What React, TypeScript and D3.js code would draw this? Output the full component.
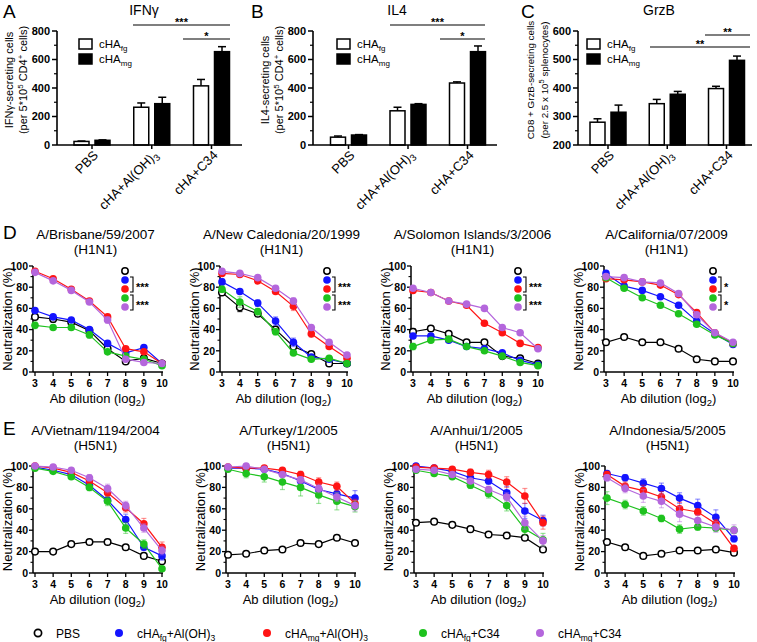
import React from 'react';
import * as d3 from 'd3';

const FONT = "'Liberation Sans', Arial, Helvetica, sans-serif";

// ---------- Bar chart data (panels A–C) ----------
const groups = ['PBS', 'cHA+Al(OH)3', 'cHA+C34'];
const ifngFg = [25, 265, 415];
const ifngFgErr = [3, 30, 45];
const ifngMg = [33, 290, 655];
const ifngMgErr = [3, 45, 35];
const il4Fg = [55, 240, 435];
const il4FgErr = [8, 25, 8];
const il4Mg = [70, 285, 655];
const il4MgErr = [3, 5, 40];
const grzbFg = [280, 345, 398];
const grzbFgErr = [12, 15, 8];
const grzbMg = [315, 378, 497];
const grzbMgErr = [25, 10, 15];
const cellTicks = [0, 200, 400, 600, 800];
const cellMinor = [100, 300, 500, 700];
const grzbTicks = [200, 300, 400, 500, 600];
const grzbMinor = [250, 350, 450, 550];

// ---------- Neutralization data (panels D–E) ----------
const dilutions = [3, 4, 5, 6, 7, 8, 9, 10];
const neutTicks = [0, 20, 40, 60, 80, 100];
const neutMinor = [10, 30, 50, 70, 90];
const seriesColors = ['#000000', '#1414ff', '#ff1414', '#1ec21e', '#b466dc'];

// order: PBS, cHAfg+Al(OH)3, cHAmg+Al(OH)3, cHAfg+C34, cHAmg+C34
const brisbane = [
  [52, 50, 47, 39, 22, 10, 13, 8],
  [58, 52, 49, 40, 27, 18, 23, 8],
  [95, 88, 78, 67, 52, 22, 19, 8],
  [44, 42, 42, 35, 19, 15, 12, 6],
  [94, 86, 77, 66, 49, 12, 9, 8],
];
const brisbaneErr = [
  [2, 3, 2, 2, 2, 1, 1, 1],
  [2, 2, 2, 2, 2, 2, 2, 1],
  [1, 1, 1, 1, 2, 2, 2, 1],
  [3, 2, 2, 3, 2, 2, 2, 1],
  [1, 1, 1, 2, 3, 2, 2, 1],
];
const caledonia = [
  [75, 61, 55, 40, 24, 17, 8, 8],
  [85, 76, 65, 48, 28, 14, 12, 8],
  [93, 92, 86, 76, 62, 36, 24, 13],
  [78, 66, 57, 38, 18, 12, 13, 8],
  [95, 93, 89, 79, 67, 42, 28, 16],
];
const caledoniaErr = [
  [2, 4, 2, 2, 2, 1, 1, 1],
  [3, 2, 3, 4, 4, 2, 1, 1],
  [2, 2, 2, 2, 4, 3, 2, 1],
  [3, 5, 3, 3, 2, 2, 1, 1],
  [1, 1, 1, 2, 3, 2, 1, 1],
];
const solomon = [
  [38, 41, 36, 28, 28, 15, 13, 8],
  [34, 34, 30, 24, 22, 18, 11, 7],
  [77, 75, 67, 63, 46, 37, 27, 23],
  [24, 30, 31, 24, 20, 15, 9, 6],
  [79, 75, 67, 64, 60, 42, 37, 22],
];
const solomonErr = [
  [3, 2, 1, 1, 1, 1, 1, 1],
  [2, 2, 1, 1, 1, 1, 1, 1],
  [2, 1, 1, 1, 2, 2, 1, 1],
  [3, 1, 1, 1, 1, 1, 1, 1],
  [1, 1, 1, 1, 1, 1, 1, 1],
];
const california = [
  [28, 33, 28, 28, 22, 12, 10, 10],
  [93, 81, 77, 71, 63, 48, 36, 26],
  [88, 87, 85, 82, 73, 56, 37, 27],
  [89, 79, 70, 63, 55, 45, 35, 27],
  [90, 89, 85, 84, 74, 54, 37, 28],
];
const californiaErr = [
  [1, 1, 1, 1, 2, 1, 1, 1],
  [1, 1, 1, 1, 1, 1, 1, 1],
  [1, 1, 1, 1, 1, 1, 1, 1],
  [1, 1, 1, 1, 1, 2, 1, 1],
  [1, 1, 1, 1, 1, 1, 1, 1],
];
const vietnam = [
  [20, 20, 27, 29, 29, 24, 16, 11],
  [99, 96, 92, 82, 68, 50, 24, 16],
  [100, 98, 94, 86, 75, 61, 46, 24],
  [98, 95, 90, 80, 67, 42, 27, 4],
  [100, 99, 96, 89, 79, 63, 42, 21],
];
const vietnamErr = [
  [1, 1, 1, 1, 1, 1, 1, 1],
  [1, 1, 2, 3, 3, 5, 3, 4],
  [1, 1, 2, 2, 3, 4, 5, 5],
  [1, 2, 2, 3, 4, 5, 4, 2],
  [1, 1, 2, 3, 4, 4, 4, 4],
];
const turkey = [
  [17, 18, 21, 22, 28, 27, 33, 28],
  [98, 98, 97, 93, 86, 78, 74, 70],
  [99, 98, 98, 96, 92, 85, 81, 65],
  [97, 93, 90, 85, 80, 73, 67, 62],
  [99, 100, 97, 92, 87, 79, 71, 63],
];
const turkeyErr = [
  [1, 1, 1, 1, 1, 1, 1, 1],
  [1, 2, 2, 3, 3, 4, 4, 7],
  [1, 1, 1, 2, 3, 4, 4, 4],
  [2, 4, 5, 7, 8, 8, 8, 5],
  [1, 1, 2, 2, 3, 4, 4, 5],
];
const anhui = [
  [47, 48, 45, 41, 36, 35, 33, 22],
  [100, 98, 95, 89, 86, 75, 58, 49],
  [99, 98, 97, 94, 92, 85, 72, 47],
  [96, 93, 90, 82, 74, 63, 41, 31],
  [97, 96, 92, 86, 78, 71, 47, 30],
];
const anhuiErr = [
  [1, 1, 1, 1, 1, 1, 1, 1],
  [1, 1, 2, 2, 3, 6, 7, 5],
  [1, 1, 2, 3, 4, 5, 7, 6],
  [1, 2, 2, 3, 4, 5, 5, 6],
  [1, 1, 2, 2, 3, 4, 6, 5],
];
const indonesia = [
  [29, 24, 16, 18, 21, 21, 22, 19],
  [93, 89, 84, 79, 70, 63, 52, 32],
  [92, 81, 77, 71, 60, 57, 46, 23],
  [70, 64, 58, 51, 41, 43, 42, 40],
  [89, 79, 72, 67, 55, 49, 43, 40],
];
const indonesiaErr = [
  [1, 1, 1, 1, 1, 1, 1, 1],
  [2, 3, 4, 5, 5, 6, 7, 3],
  [3, 4, 5, 5, 6, 3, 4, 2],
  [6, 4, 4, 3, 4, 3, 3, 3],
  [3, 4, 6, 6, 7, 5, 5, 5],
];

// ---------- Bar panel ----------
const BAR_TOP = 31;
const BAR_BOT = 145;

type Sig = { x1: number; x2: number; y: number; label: string };

function BarPanel(props: {
  ax: number; axEnd: number; first: number; last: number;
  domain: [number, number]; ticks: number[]; minor: number[];
  fg: number[]; fgErr: number[]; mg: number[]; mgErr: number[];
  title: string; titleX: number; letter: string; letterX: number;
  ylab1: React.ReactNode; ylab2: React.ReactNode; ylabFont: number;
  legendX: number; sig: Sig[];
}) {
  const p = props;
  const y = d3.scaleLinear().domain(p.domain).range([BAR_BOT, BAR_TOP]);
  const xc = d3.scalePoint<string>().domain(groups).range([p.first, p.last]);
  const bw = 15;
  const midY = 80;
  return (
    <g>
      <text x={p.letterX} y={18} fontSize={19}>{p.letter}</text>
      <text x={p.titleX} y={15} fontSize={14} textAnchor="middle">{p.title}</text>
      {/* y label */}
      <text transform={`translate(${p.ax - 44},${midY}) rotate(-90)`} textAnchor="middle" fontSize={p.ylabFont}>{p.ylab1}</text>
      <text transform={`translate(${p.ax - 30},${midY}) rotate(-90)`} textAnchor="middle" fontSize={p.ylabFont}>{p.ylab2}</text>
      {/* bars */}
      {groups.map((g, i) => {
        const c = xc(g)!;
        const fx = c - bw - 3;
        const mx = c + 3;
        return (
          <g key={g}>
            <line x1={fx + bw / 2} x2={fx + bw / 2} y1={y(p.fg[i])} y2={y(p.fg[i] + p.fgErr[i])} stroke="#000" strokeWidth={1.5} />
            <line x1={fx + bw / 2 - 4} x2={fx + bw / 2 + 4} y1={y(p.fg[i] + p.fgErr[i])} y2={y(p.fg[i] + p.fgErr[i])} stroke="#000" strokeWidth={1.5} />
            <rect x={fx} y={y(p.fg[i])} width={bw} height={BAR_BOT - y(p.fg[i])} fill="#fff" stroke="#000" strokeWidth={1.5} />
            <line x1={mx + bw / 2} x2={mx + bw / 2} y1={y(p.mg[i])} y2={y(p.mg[i] + p.mgErr[i])} stroke="#000" strokeWidth={1.5} />
            <line x1={mx + bw / 2 - 4} x2={mx + bw / 2 + 4} y1={y(p.mg[i] + p.mgErr[i])} y2={y(p.mg[i] + p.mgErr[i])} stroke="#000" strokeWidth={1.5} />
            <rect x={mx} y={y(p.mg[i])} width={bw} height={BAR_BOT - y(p.mg[i])} fill="#000" stroke="#000" strokeWidth={1.5} />
            <line x1={c} x2={c} y1={BAR_BOT} y2={BAR_BOT + 4} stroke="#000" strokeWidth={1.5} />
            <text transform={`translate(${c + 7},${BAR_BOT + 11}) rotate(-45)`} textAnchor="end" fontSize={13}>
              {g === 'cHA+Al(OH)3' ? (<><tspan>cHA+Al(OH)</tspan><tspan dy={3} fontSize={9.5}>3</tspan></>) : g}
            </text>
          </g>
        );
      })}
      {/* axes */}
      <line x1={p.ax} x2={p.ax} y1={BAR_BOT} y2={BAR_TOP} stroke="#000" strokeWidth={1.6} />
      <line x1={p.ax} x2={p.axEnd} y1={BAR_BOT} y2={BAR_BOT} stroke="#000" strokeWidth={1.6} />
      {p.ticks.map(t => (
        <g key={t}>
          <line x1={p.ax - 5} x2={p.ax} y1={y(t)} y2={y(t)} stroke="#000" strokeWidth={1.5} />
          <text x={p.ax - 7} y={y(t)} dy="0.36em" textAnchor="end" fontSize={11} fontWeight="bold">{t}</text>
        </g>
      ))}
      {p.minor.map(t => (
        <line key={t} x1={p.ax - 3} x2={p.ax} y1={y(t)} y2={y(t)} stroke="#000" strokeWidth={1.2} />
      ))}
      {/* legend */}
      <rect x={p.legendX} y={39} width={13} height={10} fill="#fff" stroke="#000" strokeWidth={1.5} />
      <rect x={p.legendX} y={54} width={13} height={10} fill="#000" stroke="#000" strokeWidth={1.5} />
      <text x={p.legendX + 20} y={48} fontSize={11.5}>cHA<tspan dy={3} fontSize={8}>fg</tspan></text>
      <text x={p.legendX + 20} y={63} fontSize={11.5}>cHA<tspan dy={3} fontSize={8}>mg</tspan></text>
      {/* significance */}
      {p.sig.map((s, i) => (
        <g key={i}>
          <line x1={s.x1} x2={s.x2} y1={s.y} y2={s.y} stroke="#000" strokeWidth={1.2} />
          <text x={(s.x1 + s.x2) / 2} y={s.y + 1} textAnchor="middle" fontSize={11} fontWeight="bold">{s.label}</text>
        </g>
      ))}
    </g>
  );
}

// ---------- Neutralization panel ----------
type Row = { yTop: number; yBot: number; titleY: number; letterY: number };
const rowD: Row = { yTop: 266, yBot: 372, titleY: 239, letterY: 239 };
const rowE: Row = { yTop: 466, yBot: 573, titleY: 435, letterY: 435 };

type NeutP = {
  title: string; sub: string; x3: number; x10: number; vals: number[][]; errs: number[][];
  letter?: string; legendX?: number; stars?: string[];
};

function LinePanel({ p, row }: { p: NeutP; row: Row }) {
  const x = d3.scaleLinear().domain([3, 10]).range([p.x3, p.x10]);
  const y = d3.scaleLinear().domain([0, 100]).range([row.yBot, row.yTop]);
  const ax = p.x3 - 2;
  const line = d3.line<number>().x((_, i) => x(dilutions[i])).y(d => y(d));
  const cx = (p.x3 + p.x10) / 2 - 3;
  const midY = (row.yTop + row.yBot) / 2;
  return (
    <g>
      {p.letter && <text x={3} y={row.letterY} fontSize={19}>{p.letter}</text>}
      <text x={cx} y={row.titleY} textAnchor="middle" fontSize={13.5}>{p.title}</text>
      <text x={cx} y={row.titleY + 15} textAnchor="middle" fontSize={13.5}>{p.sub}</text>
      <text transform={`translate(${ax - 21},${midY}) rotate(-90)`} textAnchor="middle" fontSize={13}>Neutralization (%)</text>
      <text x={cx + 2} y={row.yBot + 31} textAnchor="middle" fontSize={13}>
        Ab dilution (log<tspan dy={3} fontSize={9.5}>2</tspan><tspan dy={-3}>)</tspan>
      </text>
      {/* axes */}
      <line x1={ax} x2={ax} y1={row.yBot} y2={row.yTop} stroke="#000" strokeWidth={1.5} />
      <line x1={ax} x2={p.x10 + 1} y1={row.yBot} y2={row.yBot} stroke="#000" strokeWidth={1.5} />
      {neutTicks.map(t => (
        <g key={t}>
          <line x1={ax - 4} x2={ax} y1={y(t)} y2={y(t)} stroke="#000" strokeWidth={1.3} />
          <text x={ax - 5} y={y(t)} dy="0.36em" textAnchor="end" fontSize={10.5} fontWeight="bold">{t}</text>
        </g>
      ))}
      {neutMinor.map(t => (
        <line key={t} x1={ax - 2.5} x2={ax} y1={y(t)} y2={y(t)} stroke="#000" strokeWidth={1.1} />
      ))}
      {dilutions.map(d => (
        <g key={d}>
          <line x1={x(d)} x2={x(d)} y1={row.yBot} y2={row.yBot + 4} stroke="#000" strokeWidth={1.3} />
          <text x={x(d)} y={row.yBot + 15} textAnchor="middle" fontSize={10.5} fontWeight="bold">{d}</text>
        </g>
      ))}
      {/* series */}
      {p.vals.map((vals, si) => (
        <g key={si}>
          {vals.map((v, i) => {
            const e = p.errs[si][i];
            const xx = x(dilutions[i]);
            return (
              <g key={i} stroke={seriesColors[si]} strokeOpacity={si === 0 ? 0.8 : 0.45} strokeWidth={1.2}>
                <line x1={xx} x2={xx} y1={y(v - e)} y2={y(Math.min(v + e, 104))} />
                <line x1={xx - 2.5} x2={xx + 2.5} y1={y(v - e)} y2={y(v - e)} />
                <line x1={xx - 2.5} x2={xx + 2.5} y1={y(Math.min(v + e, 104))} y2={y(Math.min(v + e, 104))} />
              </g>
            );
          })}
          <path d={line(vals) || ''} fill="none" stroke={seriesColors[si]} strokeWidth={1.2} />
          {vals.map((v, i) => (
            si === 0
              ? <circle key={i} cx={x(dilutions[i])} cy={y(v)} r={3.3} fill="#fff" stroke="#000" strokeWidth={1.5} />
              : <circle key={i} cx={x(dilutions[i])} cy={y(v)} r={3.8} fill={seriesColors[si]} />
          ))}
        </g>
      ))}
      {/* in-panel legend */}
      {p.legendX !== undefined && p.stars && (
        <g>
          {seriesColors.map((c, i) => (
            i === 0
              ? <circle key={i} cx={p.legendX} cy={271} r={3.2} fill="#fff" stroke="#000" strokeWidth={1.5} />
              : <circle key={i} cx={p.legendX} cy={271 + 9 * i} r={3.8} fill={c} />
          ))}
          {[1, 3].map((k, j) => {
            const y1 = 271 + 9 * k - 3;
            const y2 = 271 + 9 * (k + 1) + 3;
            const bx = p.legendX! + 8;
            return (
              <g key={k}>
                <path d={`M${bx - 3},${y1}H${bx}V${y2}H${bx - 3}`} fill="none" stroke="#000" strokeWidth={1.1} />
                <text x={bx + 3} y={(y1 + y2) / 2 + 6} fontSize={11} fontWeight="bold">{p.stars![j]}</text>
              </g>
            );
          })}
        </g>
      )}
    </g>
  );
}

const panelsD: NeutP[] = [
  { title: 'A/Brisbane/59/2007', sub: '(H1N1)', x3: 35, x10: 162, vals: brisbane, errs: brisbaneErr, letter: 'D', legendX: 125, stars: ['***', '***'] },
  { title: 'A/New Caledonia/20/1999', sub: '(H1N1)', x3: 222, x10: 347, vals: caledonia, errs: caledoniaErr, legendX: 327, stars: ['***', '***'] },
  { title: 'A/Solomon Islands/3/2006', sub: '(H1N1)', x3: 413, x10: 538, vals: solomon, errs: solomonErr, legendX: 518, stars: ['***', '***'] },
  { title: 'A/California/07/2009', sub: '(H1N1)', x3: 606, x10: 733, vals: california, errs: californiaErr, legendX: 713, stars: ['*', '*'] },
];
const panelsE: NeutP[] = [
  { title: 'A/Vietnam/1194/2004', sub: '(H5N1)', x3: 35, x10: 162, vals: vietnam, errs: vietnamErr, letter: 'E' },
  { title: 'A/Turkey/1/2005', sub: '(H5N1)', x3: 228, x10: 355, vals: turkey, errs: turkeyErr },
  { title: 'A/Anhui/1/2005', sub: '(H5N1)', x3: 416, x10: 543, vals: anhui, errs: anhuiErr },
  { title: 'A/Indonesia/5/2005', sub: '(H5N1)', x3: 607, x10: 734, vals: indonesia, errs: indonesiaErr },
];

function BottomLegend() {
  const y = 633;
  const items = [
    { x: 38, lab: <tspan>PBS</tspan> },
    { x: 119, lab: <><tspan>cHA</tspan><tspan dy={3} fontSize={8.5}>fg</tspan><tspan dy={-3}>+Al(OH)</tspan><tspan dy={3} fontSize={8.5}>3</tspan></> },
    { x: 267, lab: <><tspan>cHA</tspan><tspan dy={3} fontSize={8.5}>mg</tspan><tspan dy={-3}>+Al(OH)</tspan><tspan dy={3} fontSize={8.5}>3</tspan></> },
    { x: 423, lab: <><tspan>cHA</tspan><tspan dy={3} fontSize={8.5}>fg</tspan><tspan dy={-3}>+C34</tspan></> },
    { x: 540, lab: <><tspan>cHA</tspan><tspan dy={3} fontSize={8.5}>mg</tspan><tspan dy={-3}>+C34</tspan></> },
  ];
  return (
    <g>
      {items.map((it, i) => (
        <g key={i}>
          {i === 0
            ? <circle cx={it.x} cy={y} r={3.6} fill="#fff" stroke="#000" strokeWidth={1.7} />
            : <circle cx={it.x} cy={y} r={4} fill={seriesColors[i]} />}
          <text x={it.x + 18} y={y + 4.5} fontSize={12}>{it.lab}</text>
        </g>
      ))}
    </g>
  );
}

export default function App() {
  return (
    <svg width={757} height={642} style={{ position: 'absolute', left: 0, top: 0, background: '#fff' }} fontFamily={FONT}>
      <rect width={757} height={642} fill="#fff" />
      <BarPanel
        ax={57} axEnd={242} first={92} last={211.5} domain={[0, 800]} ticks={cellTicks} minor={cellMinor}
        fg={ifngFg} fgErr={ifngFgErr} mg={ifngMg} mgErr={ifngMgErr}
        title="IFNγ" titleX={144} letter="A" letterX={3}
        ylab1={<tspan>IFNγ-secreting cells</tspan>}
        ylab2={<><tspan>(per 5*10</tspan><tspan dy={-4} fontSize={8}>5</tspan><tspan dy={4}> CD4</tspan><tspan dy={-4} fontSize={8}>+</tspan><tspan dy={4}> cells)</tspan></>}
        ylabFont={11}
        legendX={79}
        sig={[{ x1: 133, x2: 230, y: 25, label: '***' }, { x1: 183, x2: 230, y: 39, label: '*' }]}
      />
      <BarPanel
        ax={313} axEnd={497} first={348.5} last={467.5} domain={[0, 800]} ticks={cellTicks} minor={cellMinor}
        fg={il4Fg} fgErr={il4FgErr} mg={il4Mg} mgErr={il4MgErr}
        title="IL4" titleX={397} letter="B" letterX={251}
        ylab1={<tspan>IL4-secreting cells</tspan>}
        ylab2={<><tspan>(per 5*10</tspan><tspan dy={-4} fontSize={8}>5</tspan><tspan dy={4}> CD4</tspan><tspan dy={-4} fontSize={8}>+</tspan><tspan dy={4}> cells)</tspan></>}
        ylabFont={11}
        legendX={337}
        sig={[{ x1: 390, x2: 485, y: 25, label: '***' }, { x1: 440, x2: 485, y: 39, label: '*' }]}
      />
      <BarPanel
        ax={578} axEnd={752} first={608} last={726.5} domain={[200, 600]} ticks={grzbTicks} minor={grzbMinor}
        fg={grzbFg} fgErr={grzbFgErr} mg={grzbMg} mgErr={grzbMgErr}
        title="GrzB" titleX={659} letter="C" letterX={521}
        ylab1={<tspan>CD8 + GrzB-secreting cells</tspan>}
        ylab2={<><tspan>(per 2.5 x 10</tspan><tspan dy={-4} fontSize={7.5}>5</tspan><tspan dy={4}> splenocytes)</tspan></>}
        ylabFont={9.8}
        legendX={587}
        sig={[{ x1: 705, x2: 750, y: 35, label: '**' }, { x1: 650, x2: 750, y: 47, label: '**' }]}
      />
      {panelsD.map((p, i) => <LinePanel key={'d' + i} p={p} row={rowD} />)}
      {panelsE.map((p, i) => <LinePanel key={'e' + i} p={p} row={rowE} />)}
      <BottomLegend />
    </svg>
  );
}
